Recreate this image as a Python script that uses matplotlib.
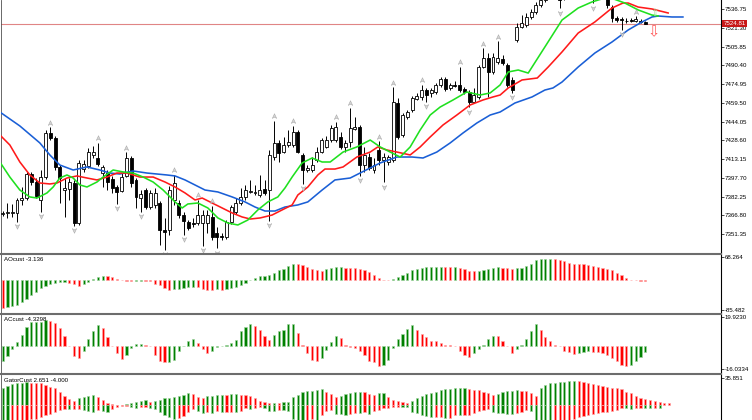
import numpy as np
import matplotlib
matplotlib.use('Agg')
import matplotlib.pyplot as plt
import matplotlib.transforms as mtransforms
from matplotlib.path import Path
from matplotlib.lines import Line2D

plt.rcParams['font.family'] = ['Liberation Sans', 'DejaVu Sans']

# ---------------- data: candles ----------------
open_ = [7367.9, 7368.7, 7368.7, 7368.7, 7379.4, 7381.0, 7400.8, 7394.2, 7379.4, 7398.3,
         7434.6, 7430.5, 7406.6, 7387.6, 7388.5, 7393.4, 7360.4, 7404.9, 7407.4, 7416.5,
         7414.0, 7401.6, 7401.6, 7396.7, 7390.1, 7386.8, 7399.2, 7414.0, 7395.9, 7381.0,
         7387.6, 7373.6, 7375.3, 7376.9, 7354.7, 7354.7, 7379.4, 7376.9, 7367.0, 7361.3,
         7360.4, 7360.4, 7360.4, 7360.4, 7365.4, 7352.2, 7349.7, 7348.9, 7361.3, 7369.5,
         7376.9, 7381.9, 7386.0, 7385.2, 7383.5, 7388.5, 7387.6, 7414.8, 7426.4, 7418.9,
         7424.7, 7424.7, 7435.4, 7416.5, 7404.1, 7404.1, 7412.4, 7418.9, 7423.1, 7428.8,
         7428.8, 7431.3, 7423.1, 7427.2, 7437.9, 7439.5, 7408.2, 7414.8, 7404.1, 7420.6,
         7412.4, 7410.7, 7412.4, 7459.3, 7433.0, 7447.8, 7453.6, 7462.6, 7464.3, 7470.0,
         7467.6, 7468.4, 7474.2, 7479.1, 7471.7, 7474.2, 7474.2, 7470.9, 7468.4, 7460.2,
         7464.3, 7489.0, 7496.4, 7484.9, 7493.1, 7495.6, 7490.6, 7478.3, 7511.2, 7521.9,
         7523.6, 7530.2, 7534.3, 7540.1, 7544.2, 7550.8, 7555.7, 7549.1, 7545.8, 7554.1,
         7559.0, 7564.0, 7560.7, 7555.7, 7550.8, 7547.5, 7550.8, 7552.4, 7538.4, 7529.4,
         7528.5, 7526.9, 7527.7, 7526.9, 7526.9, 7526.1]
high_ = [7370.3, 7376.9, 7376.1, 7381.0, 7390.1, 7402.5, 7402.5, 7397.5, 7404.1, 7437.1,
         7439.5, 7432.1, 7408.2, 7397.5, 7397.5, 7395.9, 7412.4, 7412.4, 7422.2, 7423.9,
         7426.4, 7408.2, 7404.1, 7399.2, 7391.8, 7401.6, 7418.9, 7415.7, 7397.5, 7387.6,
         7389.3, 7387.6, 7389.3, 7378.6, 7364.6, 7390.9, 7400.0, 7379.4, 7369.5, 7362.9,
         7364.6, 7379.4, 7371.2, 7371.2, 7374.5, 7357.1, 7352.2, 7362.9, 7375.3, 7381.0,
         7389.3, 7391.8, 7395.9, 7391.8, 7400.0, 7395.9, 7420.6, 7444.5, 7428.8, 7431.3,
         7437.1, 7440.4, 7437.1, 7418.1, 7408.2, 7414.8, 7423.1, 7430.5, 7432.1, 7441.2,
         7443.7, 7435.4, 7428.8, 7455.2, 7447.8, 7441.2, 7423.1, 7418.1, 7414.0, 7428.0,
         7418.1, 7416.5, 7472.5, 7463.4, 7451.1, 7453.6, 7465.1, 7467.6, 7474.2, 7471.7,
         7471.7, 7475.8, 7480.8, 7480.8, 7475.8, 7477.5, 7489.0, 7472.5, 7470.0, 7471.7,
         7490.6, 7504.6, 7500.5, 7500.5, 7510.4, 7498.9, 7492.3, 7480.8, 7525.2, 7531.8,
         7533.5, 7536.8, 7542.6, 7546.7, 7554.1, 7559.0, 7558.2, 7552.4, 7557.4, 7562.3,
         7567.3, 7568.9, 7562.3, 7557.4, 7554.1, 7555.7, 7557.4, 7554.1, 7540.1, 7531.0,
         7530.2, 7529.4, 7529.4, 7531.0, 7528.5, 7526.9]
low_ = [7366.2, 7364.6, 7365.4, 7361.3, 7375.3, 7379.4, 7391.8, 7381.0, 7369.5, 7396.7,
        7428.8, 7404.1, 7376.9, 7365.4, 7379.4, 7358.0, 7358.8, 7402.5, 7405.8, 7414.0,
        7407.4, 7390.1, 7387.6, 7385.2, 7376.1, 7386.0, 7398.3, 7390.1, 7372.8, 7369.5,
        7372.0, 7372.0, 7372.8, 7342.3, 7338.2, 7350.6, 7375.3, 7364.6, 7350.6, 7354.7,
        7357.1, 7358.8, 7341.5, 7352.2, 7346.4, 7339.8, 7346.4, 7347.3, 7359.6, 7367.9,
        7375.3, 7379.4, 7385.2, 7383.5, 7381.9, 7383.5, 7362.1, 7412.4, 7410.7, 7418.1,
        7423.1, 7423.1, 7418.1, 7392.6, 7402.5, 7402.5, 7410.7, 7418.1, 7422.2, 7427.2,
        7427.2, 7421.4, 7418.9, 7423.1, 7437.1, 7399.2, 7402.5, 7404.1, 7401.6, 7408.2,
        7394.2, 7408.2, 7410.7, 7429.7, 7431.3, 7446.1, 7451.9, 7461.8, 7461.8, 7460.2,
        7464.3, 7466.7, 7472.5, 7469.2, 7470.0, 7472.5, 7468.4, 7466.7, 7456.0, 7459.3,
        7462.6, 7488.2, 7464.3, 7483.2, 7491.5, 7490.6, 7472.5, 7467.6, 7509.6, 7521.1,
        7521.9, 7528.5, 7532.7, 7538.4, 7542.6, 7549.1, 7545.8, 7537.6, 7544.2, 7552.4,
        7557.4, 7558.2, 7550.8, 7545.8, 7541.7, 7545.0, 7549.1, 7537.6, 7526.1, 7526.1,
        7519.5, 7525.2, 7526.1, 7526.1, 7525.2, 7524.4]
close_ = [7368.7, 7369.5, 7369.5, 7379.4, 7381.0, 7400.8, 7394.2, 7382.7, 7398.3, 7434.6,
          7430.5, 7406.6, 7397.5, 7389.3, 7394.2, 7360.4, 7409.9, 7409.1, 7418.9, 7418.9,
          7409.1, 7406.6, 7394.2, 7389.3, 7386.0, 7398.3, 7414.0, 7393.4, 7381.9, 7384.3,
          7373.6, 7385.2, 7385.2, 7354.7, 7353.0, 7387.6, 7393.4, 7367.0, 7362.1, 7356.3,
          7359.6, 7367.0, 7367.0, 7367.0, 7348.9, 7348.9, 7348.9, 7361.3, 7373.6, 7376.9,
          7381.9, 7387.6, 7386.8, 7386.0, 7387.6, 7385.2, 7416.5, 7426.4, 7418.1, 7424.7,
          7427.2, 7435.4, 7418.9, 7404.1, 7405.8, 7408.2, 7418.9, 7428.8, 7428.8, 7438.7,
          7439.5, 7423.1, 7426.4, 7438.7, 7439.5, 7408.2, 7416.5, 7405.8, 7408.2, 7412.4,
          7414.8, 7414.8, 7460.2, 7431.3, 7449.4, 7451.9, 7463.4, 7465.1, 7470.0, 7465.9,
          7470.0, 7474.2, 7479.1, 7470.9, 7474.2, 7473.3, 7470.0, 7468.4, 7460.2, 7465.9,
          7489.0, 7496.4, 7484.9, 7497.2, 7496.4, 7492.3, 7474.2, 7470.0, 7521.9, 7525.2,
          7530.2, 7534.3, 7540.1, 7544.2, 7550.8, 7555.7, 7549.1, 7544.2, 7554.1, 7559.0,
          7564.0, 7560.7, 7555.7, 7550.8, 7547.5, 7552.4, 7554.1, 7540.1, 7529.4, 7527.7,
          7527.7, 7526.5, 7526.9, 7528.5, 7526.1, 7524.81]
last_price = 7524.81

# fractal bars
up_fractals = [10, 20, 26, 36, 41, 44, 57, 61, 70, 73, 79, 82, 88, 96, 101, 104, 133]
down_fractals = [3, 8, 15, 24, 29, 34, 38, 42, 45, 56, 63, 75, 80, 89, 98, 107, 117, 124, 130]

# Alligator lines (bar position, price)
jaw_x = [-0.6, 3.6, 7.8, 9.9, 12.0, 14.8, 17.7, 20.4, 22.5, 24.6, 27.4, 30.3, 34.5, 36.2, 38.3,
         42.5, 45.2, 48.2, 50.9, 53.0, 55.1, 57.2, 59.3, 62.0, 64.1, 67.1, 69.8, 73.0, 77.2, 79.3,
         82.8, 86.0, 88.3, 91.2, 94.0, 96.7, 99.6, 102.4, 104.5, 107.6, 111.2, 113.9, 115.6, 117.5,
         120.9, 124.4, 128.0, 131.4, 134.3, 136.4, 137.7, 140.6, 142.9]
jaw_y = [7451.9, 7440.4, 7426.4, 7416.5, 7408.2, 7404.1, 7406.6, 7404.1, 7401.6, 7400.8, 7403.3,
         7401.6, 7400.0, 7399.2, 7395.9, 7387.6, 7386.0, 7381.9, 7377.8, 7373.6, 7370.3, 7370.3,
         7373.6, 7375.3, 7377.8, 7387.6, 7395.9, 7397.5, 7405.8, 7409.9, 7414.8, 7414.8, 7414.0,
         7418.9, 7426.4, 7434.6, 7442.8, 7449.4, 7451.9, 7459.3, 7464.3, 7470.0, 7471.7, 7476.6,
         7489.0, 7500.5, 7509.6, 7519.5, 7526.1, 7530.2, 7531.0, 7530.2, 7530.2]
teeth_x = [-0.6, 1.5, 3.6, 5.7, 7.8, 9.9, 11.4, 13.5, 15.6, 17.7, 19.8, 21.9, 24.0, 26.1, 28.8,
           31.6, 34.1, 36.2, 38.3, 40.4, 41.9, 44.0, 46.1, 48.2, 50.3, 52.0, 54.1, 56.6, 58.7,
           60.8, 62.0, 64.1, 66.2, 67.7, 69.8, 71.5, 74.4, 77.2, 78.8, 80.7, 82.8, 85.6, 87.7,
           89.8, 92.5, 95.4, 98.2, 100.9, 103.0, 104.5, 106.2, 109.1, 112.3, 114.6, 117.5, 120.9,
           124.4, 128.0, 130.3, 131.4, 133.5, 136.4, 139.8]
teeth_y = [7433.0, 7424.7, 7410.7, 7400.0, 7393.4, 7392.6, 7393.4, 7397.5, 7399.2, 7397.5,
           7395.9, 7398.3, 7401.6, 7401.6, 7398.3, 7398.3, 7394.2, 7390.1, 7385.2, 7379.4,
           7381.0, 7376.9, 7372.8, 7368.7, 7365.4, 7363.7, 7364.6, 7367.0, 7371.2, 7375.3,
           7383.5, 7390.1, 7400.0, 7404.9, 7404.9, 7406.6, 7414.8, 7418.9, 7423.1, 7420.6,
           7418.9, 7416.5, 7423.1, 7431.3, 7441.2, 7449.4, 7457.7, 7461.8, 7464.3, 7465.9,
           7471.7, 7478.3, 7479.9, 7489.0, 7501.4, 7517.0, 7526.1, 7537.6, 7541.7, 7541.7,
           7538.4, 7536.8, 7533.5]
lips_x = [-0.6, 1.5, 3.6, 5.7, 7.2, 9.3, 10.6, 12.0, 13.5, 14.8, 16.2, 17.7, 19.8, 21.1, 23.2,
          25.3, 27.4, 29.5, 31.6, 33.7, 36.2, 37.7, 38.9, 41.0, 43.1, 45.2, 47.3, 49.4, 51.5,
          53.6, 55.7, 57.8, 59.3, 60.8, 62.9, 65.0, 67.1, 68.8, 71.5, 74.4, 77.2, 79.3, 81.4,
          83.5, 85.6, 87.7, 89.8, 91.9, 94.6, 97.5, 100.3, 102.4, 104.5, 106.2, 108.3, 110.4,
          113.9, 117.5, 120.9, 123.8, 127.2, 130.7, 133.5, 136.4, 137.7]
lips_y = [7410.7, 7398.3, 7387.6, 7381.9, 7381.0, 7385.2, 7390.1, 7397.5, 7400.0, 7397.5,
          7391.8, 7390.1, 7394.2, 7398.3, 7404.1, 7402.5, 7401.6, 7398.3, 7394.2, 7387.6,
          7377.8, 7372.8, 7376.1, 7376.9, 7372.8, 7364.6, 7360.4, 7358.8, 7362.9, 7371.2,
          7377.8, 7381.9, 7389.3, 7398.3, 7409.9, 7414.0, 7410.7, 7410.7, 7418.9, 7423.1,
          7428.8, 7423.1, 7418.9, 7414.8, 7423.1, 7437.1, 7449.4, 7456.0, 7461.8, 7468.4,
          7465.9, 7467.6, 7474.2, 7484.9, 7486.5, 7484.0, 7505.5, 7527.7, 7537.6, 7542.6,
          7546.7, 7541.7, 7536.0, 7531.8, 7531.0]

# alligator signal marks
sell_signal_x = [136.8]
sell_signal_y = [7518.0]
lips_signal_x = [137.0]
lips_signal_y = [7533.5]

price_ticks = [7536.75, 7521.30, 7505.85, 7490.40, 7474.95, 7459.50, 7444.05,
               7428.60, 7413.15, 7397.70, 7382.25, 7366.80, 7351.35]
price_tick_labels = ['7536.75', '7521.30', '7505.85', '7490.40', '7474.95', '7459.50', '7444.05',
                     '7428.60', '7413.15', '7397.70', '7382.25', '7366.80', '7351.35']

# ---------------- data: oscillators ----------------
ao_vals = [-78.3, -76.9, -74.0, -69.6, -62.4, -53.7, -43.5, -33.4, -23.2, -17.4,
           -11.6, -7.3, -4.9, -3.8, -7.3, -11.6, -16.0, -11.6, -5.8, 2.9,
           10.2, 12.5, 11.6, 8.7, 4.9, 1.5, -0.9, -2.0, -1.5, -0.9,
           -1.5, -2.9, -9.6, -14.5, -22.3, -27.0, -26.1, -24.1, -22.3, -20.3,
           -18.3, -20.3, -24.1, -27.0, -29.0, -26.1, -29.0, -26.1, -22.3, -19.4,
           -12.5, -6.7, 0.0, 6.7, 12.5, 13.0, 14.5, 21.2, 29.0, 33.9,
           40.6, 48.4, 46.4, 43.5, 38.6, 33.9, 29.0, 28.4, 31.9, 35.7,
           38.6, 39.7, 36.3, 35.7, 35.4, 33.9, 29.0, 24.1, 14.5, 6.7,
           0.9, 0.0, 4.9, 9.6, 14.5, 22.3, 29.0, 31.9, 35.7, 38.6,
           38.9, 39.2, 39.7, 38.6, 38.3, 38.9, 35.7, 31.9, 26.1, 25.8,
           26.7, 29.0, 31.9, 35.7, 38.6, 36.8, 35.7, 31.9, 35.7, 36.8,
           41.5, 48.4, 58.0, 60.9, 61.5, 61.8, 60.9, 58.0, 55.1, 51.3,
           48.4, 48.1, 47.3, 45.5, 41.5, 38.6, 35.7, 31.9, 29.0, 22.3,
           14.5, 7.8, 2.0, 0.9, -1.2, -3.136]
ac_vals = [-10.8, -7.4, -2.1, 2.5, 7.6, 12.6, 16.0, 16.2, 16.3, 17.9,
           17.2, 15.6, 12.2, 6.4, -0.2, -7.4, -8.5, -3.9, 4.8, 9.8,
           14.4, 12.4, 5.7, 0.0, -5.0, -8.9, -6.7, -1.6, 1.2, 1.3,
           0.3, -0.5, -6.2, -10.3, -11.5, -11.2, -9.6, -3.9, -0.3, 3.4,
           4.6, 1.9, -2.3, -5.0, -3.9, -0.7, -0.5, 0.3, 1.9, 4.1,
           9.8, 12.6, 15.1, 13.8, 11.0, 6.9, 4.1, 7.6, 9.8, 11.0,
           14.9, 15.1, 8.7, 0.2, -5.0, -9.6, -10.3, -8.5, -3.0, 2.5,
           6.4, 5.3, 0.5, -0.7, -1.6, -3.9, -6.7, -10.8, -11.5, -14.2,
           -13.1, -9.6, -1.6, 4.8, 8.0, 11.7, 14.0, 10.5, 8.3, 6.0,
           3.4, 3.0, 1.9, 0.5, 0.2, -0.2, -3.9, -6.7, -8.0, -5.0,
           -2.3, 0.2, 4.8, 6.9, 6.7, 3.0, 0.0, -5.0, -2.3, 0.7,
           4.8, 9.8, 14.9, 11.0, 6.0, 3.0, 0.2, -0.5, -3.4, -4.3,
           -5.5, -5.0, -4.3, -3.9, -4.3, -4.4, -5.0, -6.2, -8.5, -10.3,
           -13.1, -13.8, -13.1, -10.8, -8.0, -4.3298]
gator_upper = [21.9, 25.3, 27.6, 29.3, 29.5, 29.7, 29.4, 29.1, 28.5, 26.3,
               24.0, 21.9, 17.1, 12.2, 7.5, 5.3, 8.8, 10.1, 12.2, 13.1,
               10.9, 6.6, 2.2, 0.9, 0.5, 0.3, 0.9, 2.2, 4.3, 5.6,
               6.6, 4.3, 4.6, 6.6, 8.8, 9.6, 10.9, 12.2, 13.1, 15.4,
               15.1, 10.9, 8.8, 11.8, 12.2, 13.1, 13.3, 12.9, 14.0, 14.2,
               13.1, 12.9, 12.2, 9.6, 5.3, 3.5, 2.2, 2.4, 2.2, 4.3,
               4.5, 10.9, 13.1, 17.5, 18.4, 18.5, 19.7, 20.6, 17.5, 14.0,
               10.9, 12.2, 14.0, 15.4, 17.5, 17.6, 16.7, 14.0, 13.1, 15.4,
               15.5, 10.9, 6.6, 5.3, 3.5, 2.2, 5.3, 8.8, 12.2, 14.0,
               15.4, 17.5, 19.7, 21.0, 21.1, 21.7, 21.9, 22.1, 21.0, 19.7,
               19.6, 17.5, 15.4, 13.1, 14.0, 17.5, 18.4, 18.5, 19.7, 19.0,
               18.4, 15.4, 12.2, 21.9, 26.3, 28.5, 29.3, 29.8, 30.6, 31.5,
               31.9, 31.5, 30.6, 29.3, 27.6, 26.3, 24.9, 24.0, 22.7, 21.9,
               20.6, 17.5, 15.4, 12.2, 9.6, 7.9, 6.6, 5.3, 4.3, 3.0,
               2.651]
gator_lower = [-21.0, -22.3, -21.7, -21.0, -20.4, -19.7, -19.0, -18.4, -15.8, -13.1,
               -11.2, -9.2, -6.6, -4.6, -5.9, -5.3, -4.6, -6.6, -7.9, -9.2,
               -6.6, -8.5, -9.2, -5.3, -2.6, -1.3, -0.7, -2.0, -3.9, -2.6,
               -2.0, -3.9, -5.9, -9.2, -13.1, -16.4, -18.4, -17.1, -14.4, -9.2,
               -5.3, -7.9, -10.5, -9.2, -10.5, -8.5, -9.8, -9.6, -9.5, -9.7,
               -7.9, -4.3, -4.6, -3.5, -2.2, -4.3, -7.9, -8.0, -6.6, -6.7,
               -7.9, -18.4, -19.7, -20.4, -19.7, -19.0, -20.4, -13.1, -7.9, -6.6,
               -12.2, -12.3, -12.5, -12.2, -10.9, -11.0, -9.6, -12.2, -7.9, -6.6,
               -4.3, -3.5, -2.2, -2.0, -2.2, -2.4, -8.8, -10.9, -13.1, -14.0,
               -15.4, -15.2, -15.1, -17.5, -17.3, -13.1, -13.3, -13.1, -13.0, -10.9,
               -7.9, -6.6, -5.3, -8.8, -10.9, -11.0, -11.2, -11.3, -10.9, -8.8,
               -6.6, -7.9, -19.7, -21.0, -22.3, -23.0, -22.3, -21.7, -21.0, -20.4,
               -18.4, -16.4, -14.4, -13.1, -12.2, -10.9, -9.6, -8.8, -7.9, -6.6,
               -4.3, -4.5, -4.6, -4.3, -3.5, -3.7, -3.9, -3.9, -4.0]

ao_ticks, ao_labels = [68.264, -85.482], ['68.264', '-85.482']
ac_ticks, ac_labels = [19.9230, -16.0334], ['19.9230', '-16.0334']
gt_ticks, gt_labels = [35.851], ['35.851']

# ---------------- layout ----------------
W, H = 752, 420
fig = plt.figure(figsize=(W / 100, H / 100), dpi=100)
fig.patch.set_facecolor('white')

def box(top, bottom, left=1, right=721):
    return [left / W, 1 - bottom / H, (right - left) / W, (bottom - top) / H]

main = fig.add_axes(box(0, 253))
ao = fig.add_axes(box(254.5, 313))
ac = fig.add_axes(box(314.5, 374))
gt = fig.add_axes(box(375, 440))

XL, XR = -0.36, 150.9
FS = 4.4
GREEN, RED = '#008000', '#ff0000'
GREEN_E, RED_E = '#9fd49f', '#ffaaaa'

def style(ax, ylim, ticks, labels):
    ax.set_xlim(XL, XR)
    ax.set_ylim(*ylim)
    ax.set_facecolor('white')
    ax.spines['top'].set_visible(False)
    ax.spines['bottom'].set_visible(False)
    ax.spines['left'].set_color('#505050')
    ax.spines['left'].set_linewidth(0.6)
    ax.spines['right'].set_color('black')
    ax.spines['right'].set_linewidth(0.8)
    ax.set_xticks([])
    ax.yaxis.tick_right()
    ax.set_yticks(ticks, labels=labels)
    ax.tick_params(axis='y', which='both', left=False, right=True, length=2.0,
                   width=0.5, pad=0.8, labelsize=FS, colors='black')

style(main, (7335.7, 7544.2), price_ticks, price_tick_labels)
style(ao, (-94.1, 74.6), ao_ticks, ao_labels)
style(ac, (-19.47, 21.44), ac_ticks, ac_labels)
style(gt, (-45.96, 39.4), gt_ticks, gt_labels)

# ---------------- main chart ----------------
o = np.array(open_); h = np.array(high_); l = np.array(low_); c = np.array(close_)
idx = np.arange(len(c))
bull = c >= o
main.axhline(last_price, color='#e08585', lw=0.8, zorder=1)
main.vlines(idx, l, h, color='black', lw=0.7, zorder=2)
bot = np.minimum(o, c)
hgt = np.maximum(np.abs(c - o), 0.35)
main.bar(idx[bull], hgt[bull], bottom=bot[bull], width=0.62, facecolor='white',
         edgecolor='black', lw=0.6, zorder=3)
main.bar(idx[~bull], hgt[~bull], bottom=bot[~bull], width=0.62, facecolor='black',
         edgecolor='black', lw=0.6, zorder=3)

main.plot(jaw_x, jaw_y, color='#1a5fd6', lw=1.15, zorder=4, solid_joinstyle='round')
main.plot(teeth_x, teeth_y, color='#ff1a1a', lw=1.15, zorder=5, solid_joinstyle='round')
main.plot(lips_x, lips_y, color='#1fe01f', lw=1.15, zorder=6, solid_joinstyle='round')

up_marker = Path([(0, 1), (0.8, -0.7), (0, -0.25), (-0.8, -0.7), (0, 1)])
dn_marker = Path([(x, -y) for x, y in up_marker.vertices])
t_up = mtransforms.offset_copy(main.transData, fig=fig, x=0, y=4.5, units='dots')
t_dn = mtransforms.offset_copy(main.transData, fig=fig, x=0, y=-4.5, units='dots')
main.plot(up_fractals, h[up_fractals], linestyle='none', marker=up_marker, markersize=4.0,
          markerfacecolor='#d2d2d2', markeredgecolor='#a0a0a0', markeredgewidth=0.3,
          transform=t_up, zorder=7)
main.plot(down_fractals, l[down_fractals], linestyle='none', marker=dn_marker, markersize=4.0,
          markerfacecolor='#d2d2d2', markeredgecolor='#a0a0a0', markeredgewidth=0.3,
          transform=t_dn, zorder=7)

for x, y in zip(sell_signal_x, sell_signal_y):
    main.text(x, y, '\u21e9', color='#ff5a5a', fontsize=10.5, ha='center', va='center',
              family=['DejaVu Sans'], zorder=8)
for x, y in zip(lips_signal_x, lips_signal_y):
    main.text(x, y, '\u21e7', color='#8fdc8f', fontsize=7, ha='center', va='center',
              family=['DejaVu Sans'], zorder=8)

tb = mtransforms.blended_transform_factory(main.transAxes, main.transData)
main.text(1.003, last_price, '7524.81', transform=tb, fontsize=FS, color='white',
          ha='left', va='center', zorder=10, clip_on=False,
          bbox=dict(boxstyle='square,pad=0.18', fc='#c81818', ec='none'))

# ---------------- oscillators ----------------
def colors_by_change(vals, first, use_abs=False):
    v = np.abs(vals) if use_abs else np.asarray(vals)
    cols = [first]
    for i in range(1, len(v)):
        cols.append(GREEN if v[i] > v[i - 1] else RED)
    return cols

def edge_of(cols):
    return [GREEN_E if cc == GREEN else RED_E for cc in cols]

ao_cols = colors_by_change(ao_vals, RED)
ao.bar(np.arange(len(ao_vals)), ao_vals, width=0.46, color=ao_cols,
       edgecolor=edge_of(ao_cols), lw=0.45)
ao.text(0.004, 0.955, 'AOcust -3.136', transform=ao.transAxes, fontsize=FS, va='top', ha='left')

ac_cols = colors_by_change(ac_vals, GREEN)
ac.bar(np.arange(len(ac_vals)), ac_vals, width=0.46, color=ac_cols,
       edgecolor=edge_of(ac_cols), lw=0.45)
ac.text(0.004, 0.955, 'ACcust -4.3298', transform=ac.transAxes, fontsize=FS, va='top', ha='left')

gu_cols = colors_by_change(gator_upper, GREEN)
gl_cols = colors_by_change(gator_lower, GREEN, use_abs=True)
gt.bar(np.arange(len(gator_upper)), gator_upper, width=0.46, color=gu_cols,
       edgecolor=edge_of(gu_cols), lw=0.45)
gt.bar(np.arange(len(gator_lower)), gator_lower, width=0.46, color=gl_cols,
       edgecolor=edge_of(gl_cols), lw=0.45)
gt.text(0.004, 0.955, 'GatorCust 2.651 -4.000', transform=gt.transAxes, fontsize=FS,
        va='top', ha='left')

# panel separators
for ysep in (253.7, 313.7, 373.9):
    fig.add_artist(Line2D([0 / W, 721 / W], [1 - ysep / H] * 2, color='#6c6c6c', lw=1.5))

fig.savefig('out.png', dpi=100, facecolor='white')
